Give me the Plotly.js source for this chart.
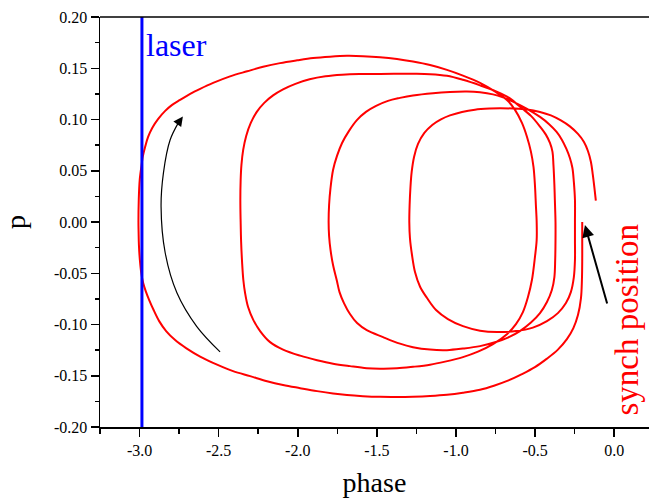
<!DOCTYPE html>
<html>
<head>
<meta charset="utf-8">
<script src="https://cdn.plot.ly/plotly-3.0.1.min.js"></script>
<style>html,body{margin:0;padding:0;background:#fff;overflow:hidden}#chart{width:649px;height:498px}</style>
</head>
<body>
<div id="chart"></div>
<script>
// Trajectory in (phase, p), drawn clockwise from the synch position
const phase = [
  // start -> outer bottom -> left of loop A
  -0.202, -0.202, -0.202, -0.204, -0.210, -0.229, -0.258, -0.299, -0.356, -0.425, -0.501, -0.583, -0.672, -0.760, -0.848, -0.956, -1.057, -1.164, -1.272, -1.373, -1.480, -1.588, -1.689, -1.777, -1.878, -1.985, -2.093, -2.194, -2.301, -2.409, -2.510, -2.617, -2.706, -2.775, -2.832, -2.876, -2.911, -2.939, -2.961, -2.977, -2.990, -2.998, -3.004, -3.006, -3.007,
  // loop A top -> right side
  -3.005, -2.999, -2.987, -2.980, -2.965, -2.946, -2.920, -2.882, -2.838, -2.794, -2.744, -2.680, -2.617, -2.535, -2.428, -2.320, -2.219, -2.112, -2.004, -1.903, -1.796, -1.689, -1.588, -1.480, -1.373, -1.272, -1.164, -1.057, -0.956, -0.848, -0.760, -0.678, -0.627, -0.583, -0.551, -0.526, -0.510, -0.501, -0.495, -0.490,
  // -> loop B bottom -> left
  -0.490, -0.501, -0.520, -0.545, -0.577, -0.621, -0.678, -0.766, -0.861, -0.956, -1.069, -1.164, -1.272, -1.373, -1.480, -1.564, -1.670, -1.777, -1.878, -1.985, -2.093, -2.175, -2.238, -2.282, -2.314, -2.333, -2.344, -2.352, -2.358, -2.361,
  // loop B top -> right side
  -2.363, -2.361, -2.356, -2.345, -2.326, -2.297, -2.259, -2.212, -2.156, -2.093, -2.015, -1.925, -1.825, -1.720, -1.610, -1.480, -1.373, -1.272, -1.164, -1.057, -0.956, -0.848, -0.743, -0.659, -0.596, -0.526, -0.469, -0.431, -0.406, -0.390, -0.384, -0.378, -0.375, -0.371,
  // -> loop C bottom -> left
  -0.371, -0.373, -0.378, -0.394, -0.425, -0.469, -0.526, -0.596, -0.672, -0.743, -0.848, -0.956, -1.057, -1.164, -1.272, -1.354, -1.461, -1.564, -1.625, -1.670, -1.708, -1.736, -1.754, -1.777, -1.793, -1.802, -1.805,
  // loop C top -> right side
  -1.802, -1.793, -1.777, -1.752, -1.720, -1.676, -1.625, -1.569, -1.505, -1.430, -1.354, -1.272, -1.145, -1.038, -0.931, -0.848, -0.766, -0.703, -0.640, -0.551, -0.469, -0.413, -0.364, -0.330, -0.302, -0.280, -0.264, -0.255, -0.248, -0.248,
  // -> loop D bottom -> left
  -0.248, -0.248, -0.255, -0.274, -0.305, -0.356, -0.425, -0.514, -0.621, -0.741, -0.848, -0.956, -1.051, -1.126, -1.183, -1.227, -1.259, -1.278, -1.291, -1.295,
  // loop D top -> end
  -1.293, -1.288, -1.280, -1.265, -1.240, -1.200, -1.150, -1.095, -1.038, -0.962, -0.880, -0.785, -0.722, -0.640, -0.551, -0.469, -0.400, -0.337, -0.280, -0.229, -0.191, -0.166, -0.147, -0.135, -0.125, -0.116
];
const p = [
  0, -0.0176, -0.0371, -0.0566, -0.0742, -0.0908, -0.1035, -0.1143, -0.1245, -0.1333, -0.1416, -0.1484, -0.1548, -0.1597, -0.1636, -0.1665, -0.1685, -0.1697, -0.1704, -0.1707, -0.1706, -0.1699, -0.1688, -0.1673, -0.165, -0.1621, -0.159, -0.1553, -0.1504, -0.1455, -0.1392, -0.1313, -0.123, -0.1152, -0.1064, -0.0967, -0.0859, -0.0762, -0.0674, -0.0596, -0.0488, -0.0371, -0.0225, -0.0098, 0,
  0.0215, 0.041, 0.0557, 0.0635, 0.0732, 0.083, 0.0918, 0.1006, 0.1084, 0.1143, 0.1191, 0.125, 0.1299, 0.1357, 0.1421, 0.147, 0.1514, 0.155, 0.1577, 0.1599, 0.1613, 0.1621, 0.1618, 0.1608, 0.159, 0.1565, 0.1531, 0.1484, 0.1428, 0.1357, 0.1279, 0.1191, 0.1094, 0.0967, 0.083, 0.0684, 0.0537, 0.0361, 0.0166, 0,
  -0.0176, -0.0342, -0.0566, -0.0732, -0.0879, -0.0996, -0.1094, -0.1191, -0.1265, -0.1318, -0.1362, -0.1392, -0.1413, -0.1428, -0.1431, -0.1426, -0.1406, -0.1382, -0.1348, -0.1304, -0.1245, -0.1172, -0.1064, -0.0952, -0.083, -0.0693, -0.0566, -0.0391, -0.0195, 0,
  0.0215, 0.041, 0.0557, 0.0703, 0.0840, 0.0967, 0.1074, 0.1162, 0.1235, 0.1294, 0.1348, 0.1392, 0.1421, 0.1436, 0.1443, 0.1445, 0.1447, 0.1446, 0.1442, 0.1426, 0.1387, 0.1333, 0.1272, 0.1206, 0.1126, 0.1035, 0.0931, 0.085, 0.0771, 0.0684, 0.0557, 0.0361, 0.0215, 0,
  -0.0176, -0.0371, -0.0537, -0.0664, -0.0781, -0.0889, -0.0981, -0.1064, -0.1128, -0.1169, -0.1211, -0.1235, -0.125, -0.1245, -0.1221, -0.1187, -0.1123, -0.1055, -0.0986, -0.0898, -0.0791, -0.0684, -0.0566, -0.042, -0.0273, -0.0137, 0,
  0.0166, 0.0332, 0.0508, 0.0645, 0.0771, 0.0889, 0.0996, 0.1074, 0.1133, 0.1182, 0.1211, 0.1235, 0.1257, 0.1268, 0.1272, 0.1265, 0.1245, 0.1216, 0.1175, 0.1104, 0.1025, 0.0957, 0.0879, 0.0801, 0.0713, 0.0625, 0.0527, 0.0391, 0.0215, 0,
  -0.0176, -0.0371, -0.0537, -0.0684, -0.0791, -0.0889, -0.0967, -0.103, -0.1064, -0.1074, -0.106, -0.1016, -0.0947, -0.0859, -0.0742, -0.0632, -0.0488, -0.0322, -0.0156, 0,
  0.0166, 0.0332, 0.0488, 0.0635, 0.0762, 0.0869, 0.0947, 0.1001, 0.1040, 0.1074, 0.1096, 0.1107, 0.111, 0.1107, 0.1098, 0.1074, 0.104, 0.0991, 0.0933, 0.0859, 0.0781, 0.0693, 0.0586, 0.0459, 0.0332, 0.0208
];
if (phase.length !== p.length) console.error('length mismatch', phase.length, p.length);
// Laser position
const laserPhase = [-2.985, -2.985];
const laserP = [-0.2, 0.2];
// Direction-of-motion guide arrow (curved)
const guidePhase = [-2.491, -2.638, -2.764, -2.838, -2.864, -2.849, -2.807, -2.754];
const guideP = [-0.1267, -0.102, -0.069, -0.030, 0.015, 0.048, 0.080, 0.097];
const guideTip = [-2.726, 0.103];
// Synch position arrow
const synchTail = [-0.042, -0.081];
const synchTip = [-0.185, -0.003];
// Ticks
const xTickVals = [-3.0, -2.5, -2.0, -1.5, -1.0, -0.5, 0.0];
const xTickText = ['-3.0', '-2.5', '-2.0', '-1.5', '-1.0', '-0.5', '0.0'];
const yTickVals = [-0.20, -0.15, -0.10, -0.05, 0.00, 0.05, 0.10, 0.15, 0.20];
const yTickText = ['-0.20', '-0.15', '-0.10', '-0.05', '0.00', '0.05', '0.10', '0.15', '0.20'];

const FONT = "'Liberation Serif', 'Times New Roman', serif";

const traces = [
  {x: phase, y: p, type: 'scatter', mode: 'lines',
   line: {color: '#ff0000', width: 2, shape: 'spline', smoothing: 1.0, simplify: false}, hoverinfo: 'skip'},
  {x: laserPhase, y: laserP, type: 'scatter', mode: 'lines',
   line: {color: '#0000ff', width: 3}, hoverinfo: 'skip'},
  {x: guidePhase, y: guideP, type: 'scatter', mode: 'lines',
   line: {color: '#000000', width: 1.2, shape: 'spline', simplify: false}, hoverinfo: 'skip'}
];

const layout = {
  width: 649, height: 498,
  margin: {l: 100, r: 0, t: 17, b: 71, pad: 0},
  paper_bgcolor: '#ffffff', plot_bgcolor: '#ffffff',
  showlegend: false,
  font: {family: FONT, color: '#000000', size: 16},
  xaxis: {
    range: [-3.25, 0.22], showgrid: false, zeroline: false,
    showline: true, linecolor: '#000000', linewidth: 1.5,
    ticks: 'outside', ticklen: 8, tickwidth: 1.5, tickcolor: '#000000',
    tickmode: 'array', tickvals: xTickVals, ticktext: xTickText,
    tickfont: {family: FONT, size: 16, color: '#000000'},
    minor: {tickmode: 'linear', tick0: 0, dtick: 0.25, ticks: 'outside', ticklen: 5, tickwidth: 1.5, tickcolor: '#000000'},
    title: {text: 'phase', font: {family: FONT, size: 28, color: '#000000'}, standoff: 14}
  },
  yaxis: {
    range: [-0.2, 0.2], showgrid: false, zeroline: false,
    showline: true, linecolor: '#000000', linewidth: 1.5,
    ticks: 'outside', ticklen: 8, tickwidth: 1.5, tickcolor: '#000000',
    tickmode: 'array', tickvals: yTickVals, ticktext: yTickText,
    tickfont: {family: FONT, size: 16, color: '#000000'},
    minor: {tickmode: 'linear', tick0: 0, dtick: 0.025, ticks: 'outside', ticklen: 4, tickwidth: 1.5, tickcolor: '#000000'},
    title: {text: 'p', font: {family: FONT, size: 28, color: '#000000'}, standoff: 26}
  },
  shapes: [
    {type: 'line', xref: 'paper', yref: 'paper', x0: 0, x1: 1, y0: 1, y1: 1,
     line: {color: '#000000', width: 1.5}}
  ],
  annotations: [
    {x: -2.765, y: 0.1727, xref: 'x', yref: 'y', text: 'laser', showarrow: false,
     font: {family: FONT, size: 32, color: '#0000ff'}, xanchor: 'center', yanchor: 'middle'},
    {x: 0.082, y: -0.095, xref: 'x', yref: 'y', text: 'synch position', showarrow: false,
     textangle: -90, font: {family: FONT, size: 33, color: '#ff0000'}, xanchor: 'center', yanchor: 'middle'},
    {x: guideTip[0], y: guideTip[1], ax: guidePhase[guidePhase.length - 1], ay: guideP[guideP.length - 1],
     xref: 'x', yref: 'y', axref: 'x', ayref: 'y', text: '', showarrow: true,
     arrowhead: 2, arrowsize: 1.6, arrowwidth: 1.2, arrowcolor: '#000000', standoff: 0, startstandoff: 0},
    {x: synchTip[0], y: synchTip[1], ax: synchTail[0], ay: synchTail[1],
     xref: 'x', yref: 'y', axref: 'x', ayref: 'y', text: '', showarrow: true,
     arrowhead: 2, arrowsize: 1.2, arrowwidth: 2, arrowcolor: '#000000', standoff: 0, startstandoff: 0}
  ]
};

Plotly.newPlot('chart', traces, layout, {displayModeBar: false, staticPlot: true});
</script>
</body>
</html>
